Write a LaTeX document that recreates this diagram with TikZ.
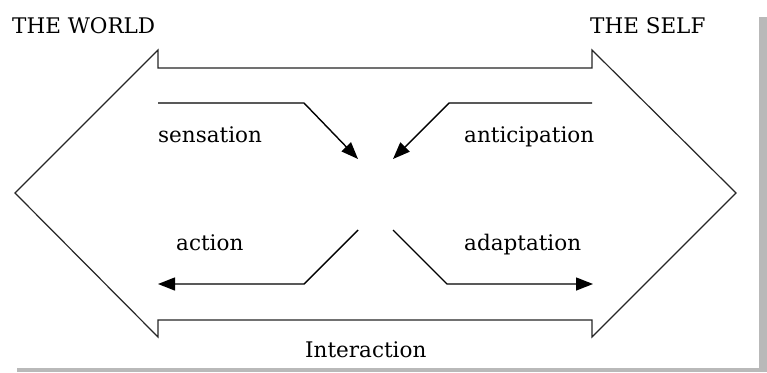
\documentclass[tikz,border=0pt]{standalone}
\usepackage{fontspec}
\setmainfont{DejaVu Serif}
\usetikzlibrary{arrows.meta}
\begin{document}
\begin{tikzpicture}[x=1pt,y=-1pt,
  label/.style={anchor=base west,inner sep=0pt,font=\fontsize{21.5}{24}\selectfont},
  outline/.style={draw=black!85,line width=1.2pt,line join=miter},
  flow/.style={draw=black,line width=1.4pt,-{Triangle[length=17pt,width=13pt]}}]
\useasboundingbox (0,0) rectangle (767,372);
% drop shadow and page
\fill[gray!55] (17,17) rectangle (767,372);
\fill[white] (0,0) rectangle (759,368);

% double-headed outline
\coordinate (ltip) at (15,193);
\coordinate (rtip) at (736,193);
\draw[outline] (ltip) -- (158,50) -- (158,68) -- (592,68) -- (592,50) -- (rtip)
  -- (592,337) -- (592,320) -- (158,320) -- (158,337) -- cycle;

% labels
\node[label] (world) at (12,33) {THE WORLD};
\node[label] (self) at (590,33) {THE SELF};
\node[label] (sens) at (158,142) {sensation};
\node[label] (anti) at (464,142) {anticipation};
\node[label] (act) at (176,250) {action};
\node[label] (adap) at (464,250) {adaptation};
\node[label] (inter) at (305,357) {Interaction};

% flows
\coordinate (s0) at (158,103); \coordinate (s1) at (304,103); \coordinate (s2) at (358,159);
\coordinate (a0) at (592,103); \coordinate (a1) at (449,103); \coordinate (a2) at (393,159);
\coordinate (c0) at (358,230); \coordinate (c1) at (304,284); \coordinate (c2) at (158,284);
\coordinate (d0) at (393,230); \coordinate (d1) at (447,284); \coordinate (d2) at (593,284);
\draw[flow] (s0) -- (s1) -- (s2);
\draw[flow] (a0) -- (a1) -- (a2);
\draw[flow] (c0) -- (c1) -- (c2);
\draw[flow] (d0) -- (d1) -- (d2);
\end{tikzpicture}
\end{document}
